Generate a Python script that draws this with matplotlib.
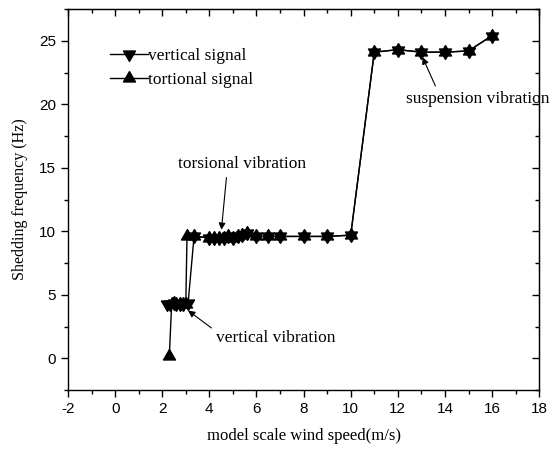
import matplotlib.pyplot as plt
from matplotlib.ticker import MultipleLocator

plt.rcParams['axes.unicode_minus'] = False

# wind speed (m/s) and shedding frequency (Hz)
vert_x = [2.2, 2.35, 2.5, 2.6, 2.75, 2.9, 3.1, 3.35, 4.0, 4.2, 4.4, 4.6, 4.8,
          5.0, 5.2, 5.4, 5.6, 6.0, 6.5, 7.0, 8.0, 9.0, 10.0,
          11.0, 12.0, 13.0, 14.0, 15.0, 16.0]
vert_y = [4.3, 4.3, 4.4, 4.3, 4.3, 4.3, 4.4, 9.6, 9.5, 9.5, 9.5, 9.5, 9.6,
          9.5, 9.6, 9.7, 9.9, 9.6, 9.6, 9.6, 9.6, 9.6, 9.7,
          24.1, 24.3, 24.1, 24.1, 24.2, 25.4]

tors_x = [2.3, 2.4, 2.5, 2.6, 2.75, 2.9, 3.0, 3.05, 3.35, 4.0, 4.2, 4.4, 4.6, 4.8,
          5.0, 5.2, 5.4, 5.6, 6.0, 6.5, 7.0, 8.0, 9.0, 10.0,
          11.0, 12.0, 13.0, 14.0, 15.0, 16.0]
tors_y = [0.2, 4.3, 4.4, 4.3, 4.3, 4.3, 4.3, 9.6, 9.6, 9.5, 9.5, 9.5, 9.5, 9.6,
          9.5, 9.6, 9.7, 9.9, 9.6, 9.6, 9.6, 9.6, 9.6, 9.7,
          24.1, 24.3, 24.1, 24.1, 24.2, 25.4]

serif = 'Liberation Serif'
sans = 'Liberation Sans'

# triangles centred on their centroid, so that up + down overlap as a star
tri_up = [(0, 1), (-0.866, -0.5), (0.866, -0.5), (0, 1)]
tri_down = [(0, -1), (0.866, 0.5), (-0.866, 0.5), (0, -1)]

fig = plt.figure(figsize=(5.53, 4.49), dpi=100)
ax = fig.add_axes([0.123, 0.131, 0.852, 0.849])

ax.plot(vert_x, vert_y, color='black', lw=1, marker=tri_down, ms=10,
        label='vertical signal')
ax.plot(tors_x, tors_y, color='black', lw=1, marker=tri_up, ms=10,
        label='tortional signal')

ax.set_xlim(-2, 18)
ax.set_ylim(-2.5, 27.5)
ax.xaxis.set_major_locator(MultipleLocator(2))
ax.xaxis.set_minor_locator(MultipleLocator(1))
ax.yaxis.set_major_locator(MultipleLocator(5))
ax.yaxis.set_minor_locator(MultipleLocator(2.5))
ax.tick_params(which='both', direction='out', width=1)
ax.tick_params(which='major', length=5, labelsize=11)
ax.tick_params(which='minor', length=3)
for lab in ax.get_xticklabels() + ax.get_yticklabels():
    lab.set_fontfamily(sans)
for s in ax.spines.values():
    s.set_linewidth(1)

# top and right axes carry inward ticks only
top = ax.secondary_xaxis('top')
right = ax.secondary_yaxis('right')
top.xaxis.set_major_locator(MultipleLocator(2))
top.xaxis.set_minor_locator(MultipleLocator(1))
right.yaxis.set_major_locator(MultipleLocator(5))
right.yaxis.set_minor_locator(MultipleLocator(2.5))
for sec in (top, right):
    sec.tick_params(which='both', direction='in', labeltop=False,
                    labelright=False, width=1)
    sec.tick_params(which='major', length=5)
    sec.tick_params(which='minor', length=3)

ax.set_xlabel('model scale wind speed(m/s)', fontfamily=serif, fontsize=12,
              labelpad=9)
ax.set_ylabel('Shedding frequency (Hz)', fontfamily=serif, fontsize=11.5,
              labelpad=8)

leg = ax.legend(loc='upper left', bbox_to_anchor=(0.075, 0.915), frameon=False,
                prop={'family': serif, 'size': 12.5}, handlelength=2.2,
                handletextpad=0.0, labelspacing=0.45, borderaxespad=0)

ax.annotate('torsional vibration', xy=(4.5, 9.9), xytext=(5.4, 15.3),
            ha='center', va='center', fontfamily=serif, fontsize=12.5,
            arrowprops=dict(arrowstyle='-|>', color='black', lw=0.8,
                            mutation_scale=10, relpos=(0.38, 0)))
ax.annotate('vertical vibration', xy=(3.0, 3.9), xytext=(4.3, 1.6),
            ha='left', va='center', fontfamily=serif, fontsize=12.5,
            arrowprops=dict(arrowstyle='-|>', color='black', lw=0.8,
                            mutation_scale=10, relpos=(0, 0.9)))
ax.annotate('suspension vibration', xy=(13.0, 23.9), xytext=(15.4, 20.4),
            ha='center', va='center', fontfamily=serif, fontsize=12.5,
            arrowprops=dict(arrowstyle='-|>', color='black', lw=0.8,
                            mutation_scale=10, relpos=(0.22, 1)))

fig.savefig('out.png', dpi=100)
